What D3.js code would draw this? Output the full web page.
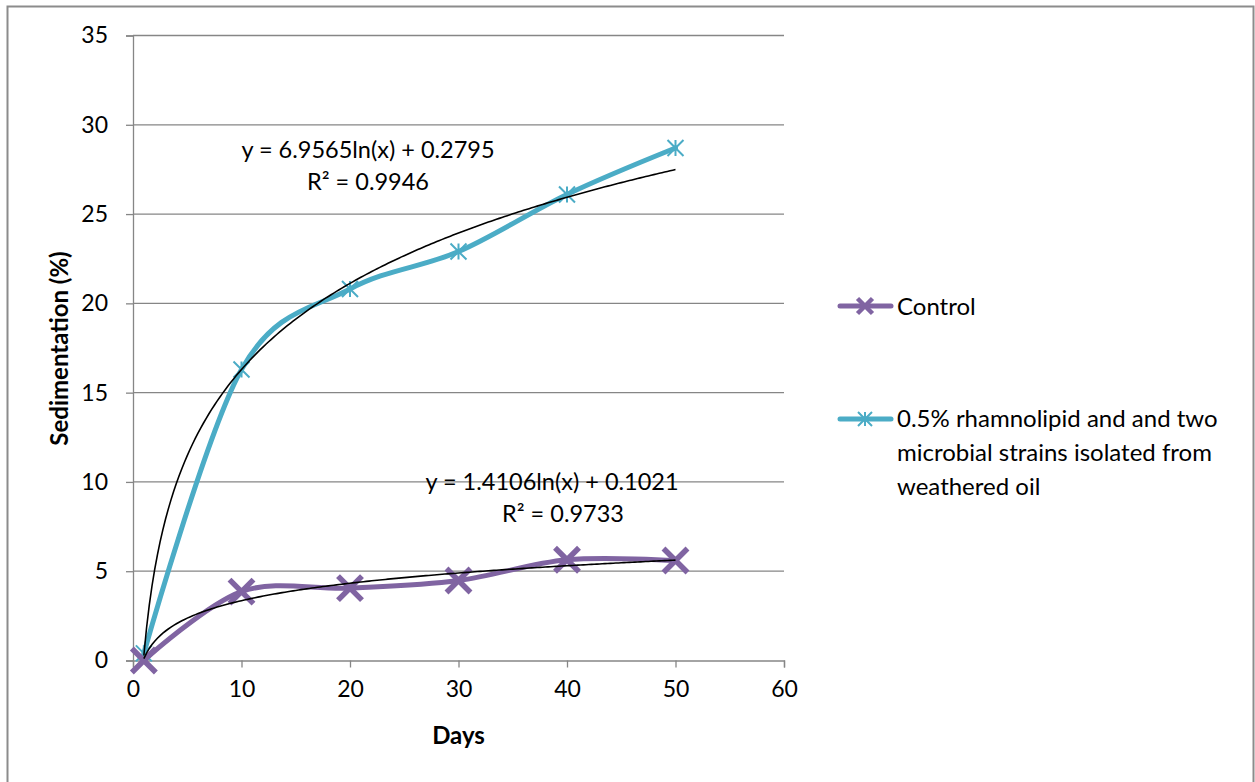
<!DOCTYPE html>
<html>
<head>
<meta charset="utf-8">
<script src="https://cdn.jsdelivr.net/npm/d3@7/dist/d3.min.js"></script>
<style>
  html, body { margin: 0; padding: 0; background: #fff; }
  svg { display: block; }
  text { font-family: Lato, "Open Sans", sans-serif; fill: #000; }
</style>
</head>
<body>
<svg id="chart" width="1255" height="782"></svg>
<script>
// Sedimentation over time for two treatments
const days = [1, 10, 20, 30, 40, 50];
const controlValues = [0, 3.86, 4.05, 4.48, 5.64, 5.6];
const treatedValues = [0.4, 16.3, 20.8, 22.9, 26.1, 28.7];
const xTicks = [0, 10, 20, 30, 40, 50, 60];
const yTicks = [0, 5, 10, 15, 20, 25, 30, 35];
const seriesNames = ["Control", "0.5% rhamnolipid and and two microbial strains isolated from weathered oil"];
const legendLines = ["0.5% rhamnolipid and and two", "microbial strains isolated from", "weathered oil"];
// Logarithmic trend coefficients: y = a ln(x) + b
const controlFit = { a: 1.4106, b: 0.1021, r2: "0.9733" };
const treatedFit = { a: 6.9565, b: 0.2795, r2: "0.9946" };

const svg = d3.select("#chart");
const purple = "#8064A2", teal = "#4BACC6", grid = "#868686";

// Outer chart frame
svg.append("rect").attr("x", 7.5).attr("y", 6.5).attr("width", 1246).attr("height", 800)
  .attr("fill", "none").attr("stroke", "#8c8c8c").attr("stroke-width", 2);

const x = d3.scaleLinear().domain([0, 60]).range([133, 784]);
const y = d3.scaleLinear().domain([0, 35]).range([660.5, 35.5]);

// Horizontal gridlines
svg.append("g").selectAll("line").data(yTicks.filter(d => d > 0)).join("line")
  .attr("x1", x(0)).attr("x2", x(60)).attr("y1", d => y(d)).attr("y2", d => y(d))
  .attr("stroke", grid).attr("stroke-width", 1.3);

// Axes
const yAxis = svg.append("g").attr("transform", `translate(${x(0)},0)`)
  .call(d3.axisLeft(y).tickValues(yTicks).tickSize(7).tickPadding(18).tickFormat(d3.format("d")));
const xAxis = svg.append("g").attr("transform", `translate(0,${y(0)})`)
  .call(d3.axisBottom(x).tickValues(xTicks).tickSize(7).tickPadding(13).tickFormat(d3.format("d")));
[yAxis, xAxis].forEach(g => {
  g.select(".domain").attr("stroke", grid).attr("stroke-width", 1.3);
  g.selectAll(".tick line").attr("stroke", grid).attr("stroke-width", 1.3);
  g.selectAll("text").style("font-size", "23px").style("font-family", "Lato, 'Open Sans', sans-serif").attr("fill", "#000");
});

// Axis titles
svg.append("text").attr("x", 458.5).attr("y", 744).attr("text-anchor", "middle")
  .style("font-size", "24px").style("font-weight", "bold").text("Days");
svg.append("text").attr("transform", "translate(68,348.5) rotate(-90)").attr("text-anchor", "middle")
  .style("font-size", "24px").style("font-weight", "bold").text("Sedimentation (%)");

// Smoothed data lines
const line = d3.line().x(d => x(d[0])).y(d => y(d[1])).curve(d3.curveCatmullRom.alpha(0));
const controlPts = days.map((d, i) => [d, controlValues[i]]);
const treatedPts = days.map((d, i) => [d, treatedValues[i]]);

svg.append("path").datum(treatedPts).attr("d", line).attr("fill", "none")
  .attr("stroke", teal).attr("stroke-width", 5).attr("stroke-linecap", "round");
svg.append("path").datum(controlPts).attr("d", line).attr("fill", "none")
  .attr("stroke", purple).attr("stroke-width", 5).attr("stroke-linecap", "round");

// Markers
function xMark(g, cx, cy, r, color, w) {
  g.append("path").attr("d", `M${cx - r},${cy - r}L${cx + r},${cy + r}M${cx - r},${cy + r}L${cx + r},${cy - r}`)
    .attr("stroke", color).attr("stroke-width", w).attr("fill", "none");
}
function starMark(g, cx, cy, r, color, w) {
  g.append("path").attr("d", `M${cx - r},${cy - r}L${cx + r},${cy + r}M${cx - r},${cy + r}L${cx + r},${cy - r}M${cx},${cy - r}L${cx},${cy + r}`)
    .attr("stroke", color).attr("stroke-width", w).attr("fill", "none");
}
const mk = svg.append("g");
treatedPts.forEach(p => starMark(mk, x(p[0]), y(p[1]), 8, teal, 2));
controlPts.forEach(p => xMark(mk, x(p[0]), y(p[1]), 12, purple, 5.5));

// Logarithmic trendlines
function trend(fit) {
  const xs = d3.range(1, 50.01, 0.25);
  return d3.line().x(d => x(d)).y(d => y(fit.a * Math.log(d) + fit.b))(xs);
}
svg.append("path").attr("d", trend(treatedFit)).attr("fill", "none").attr("stroke", "#000").attr("stroke-width", 1.6);
svg.append("path").attr("d", trend(controlFit)).attr("fill", "none").attr("stroke", "#000").attr("stroke-width", 1.6);

// Trendline equations
function eq(cx, cy, rx, fit) {
  svg.append("text").attr("x", cx).attr("y", cy).attr("text-anchor", "middle").style("font-size", "23.5px")
    .text(`y = ${fit.a.toFixed(4)}ln(x) + ${fit.b.toFixed(4)}`);
  svg.append("text").attr("x", rx).attr("y", cy + 32).attr("text-anchor", "middle").style("font-size", "23.5px")
    .text(`R² = ${fit.r2}`);
}
eq(368, 158, 368, treatedFit);
eq(552, 490, 563, controlFit);

// Legend
const lg = svg.append("g");
lg.append("line").attr("x1", 840).attr("x2", 891).attr("y1", 306).attr("y2", 306)
  .attr("stroke", purple).attr("stroke-width", 5).attr("stroke-linecap", "round");
xMark(lg, 865, 306, 7.5, purple, 4.5);
lg.append("text").attr("x", 897).attr("y", 314.5).style("font-size", "24px").text(seriesNames[0]);

lg.append("line").attr("x1", 840).attr("x2", 891).attr("y1", 419).attr("y2", 419)
  .attr("stroke", teal).attr("stroke-width", 5).attr("stroke-linecap", "round");
starMark(lg, 865, 419, 7, teal, 2);
legendLines.forEach((t, i) => {
  lg.append("text").attr("x", 897).attr("y", 427 + i * 34).style("font-size", "24px").text(t);
});
</script>
</body>
</html>
